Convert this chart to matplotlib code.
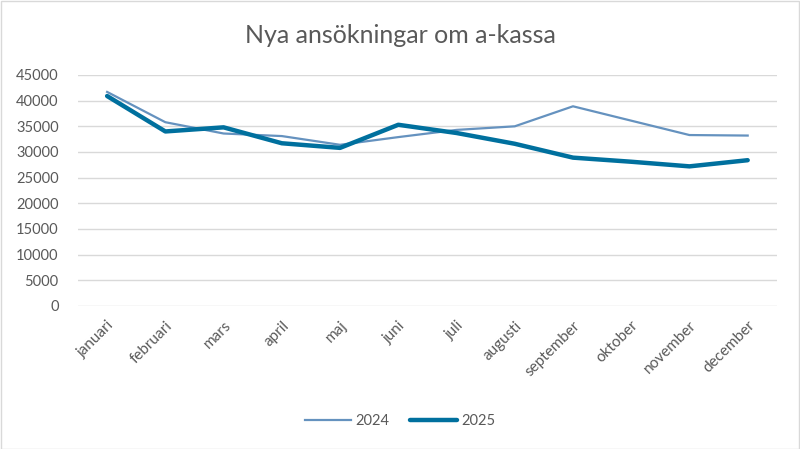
import matplotlib
matplotlib.use("Agg")
import matplotlib.pyplot as plt
from matplotlib.patches import Rectangle

# ---------- Data ----------
months = ["januari", "februari", "mars", "april", "maj", "juni", "juli",
          "augusti", "september", "oktober", "november", "december"]
apps_2024 = [41700, 35800, 33600, 33100, 31400, 32900, 34300, 35000, 38900, 36100, 33300, 33200]
apps_2025 = [40900, 34000, 34800, 31700, 30800, 35300, 33700, 31600, 28900, 28100, 27200, 28400]
yticks = list(range(0, 45001, 5000))

GREY = "#595959"
plt.rcParams["font.family"] = ["Lato", "DejaVu Sans"]

fig = plt.figure(figsize=(8, 4.49), dpi=100)
fig.patches.append(Rectangle((0.001, 0.001), 0.998, 0.997, transform=fig.transFigure,
                             fill=False, edgecolor="#D9D9D9", linewidth=1))
ax = fig.add_axes([0.0975, 0.3185, 0.8735, 0.5145])

x = range(len(months))
ax.plot(x, apps_2024, color="#6592BF", linewidth=1.6, label="2024")
ax.plot(x, apps_2025, color="#00709E", linewidth=3.2, label="2025", solid_capstyle="round")

ax.set_xlim(-0.5, len(months) - 0.5)
ax.set_ylim(0, 45000)
ax.set_yticks(yticks)
ax.set_yticklabels([str(v) for v in yticks])
ax.set_xticks(list(x))
ax.set_xticklabels(months, rotation=45, ha="right", rotation_mode="anchor")
ax.grid(axis="y", color="#D9D9D9", linewidth=1)
ax.set_axisbelow(True)
for s in ax.spines.values():
    s.set_visible(False)
ax.tick_params(axis="y", length=0, colors=GREY, labelsize=10.5, pad=14)
ax.tick_params(axis="x", length=0, colors=GREY, labelsize=11, pad=9)

fig.text(0.5, 0.92, "Nya ansökningar om a-kassa", ha="center", va="center",
         fontsize=18, color=GREY)
fig.legend(loc="center", bbox_to_anchor=(0.5, 0.063), ncol=2, frameon=False,
           fontsize=10.5, labelcolor=GREY, handlelength=3.2, handletextpad=0.3,
           columnspacing=1.4)

fig.savefig("out.png", dpi=100)
